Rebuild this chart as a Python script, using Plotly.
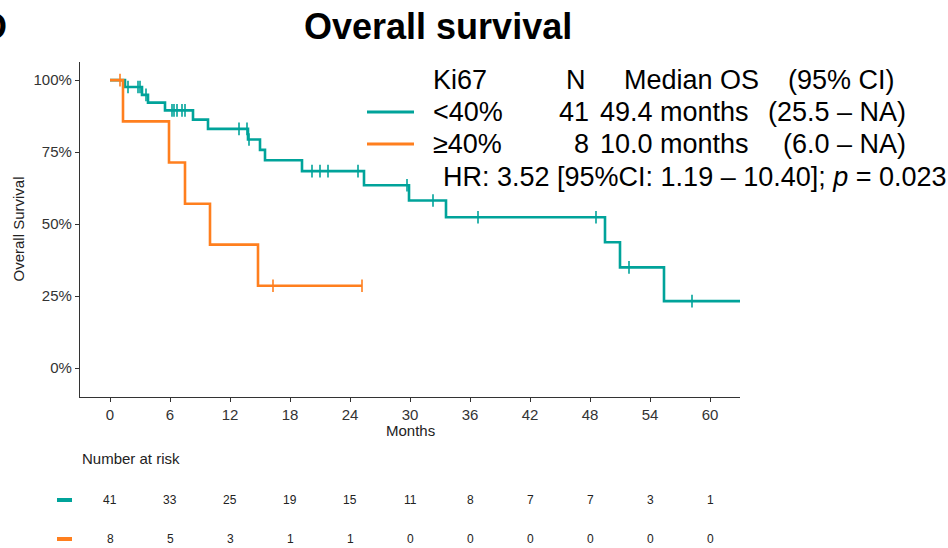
import plotly.graph_objects as go

# ---------------- data ----------------
groups = ["<40%", "≥40%"]
colors = ["#00A39A", "#FF7F1E"]

teal_event_months = [1.5, 3.2, 3.8, 5.5, 8.3, 9.8, 13.8, 15.0, 15.5, 19.2, 25.4,
                     29.9, 33.6, 49.5, 51.0, 55.4]
teal_event_surv = [97.6, 94.9, 92.2, 89.5, 86.3, 83.1, 79.4, 75.8, 72.2, 68.4, 63.5,
                   58.2, 52.4, 43.7, 35.0, 23.3]
teal_censor_months = [1.8, 2.8, 3.0, 3.6, 6.2, 6.4, 6.7, 7.2, 7.5, 12.9, 13.7, 13.9,
                      20.2, 21.0, 21.8, 24.8, 29.7, 32.3, 36.8, 48.6, 51.9, 58.2]
teal_end_month = 63.0

orange_event_months = [1.3, 5.9, 7.5, 10.0, 14.8]
orange_event_surv = [85.7, 71.4, 57.1, 42.9, 28.6]
orange_censor_months = [1.0, 16.3, 25.2]
orange_end_month = 25.2

risk_months = [0, 6, 12, 18, 24, 30, 36, 42, 48, 54, 60]
teal_at_risk = [41, 33, 25, 19, 15, 11, 8, 7, 7, 3, 1]
orange_at_risk = [8, 5, 3, 1, 1, 0, 0, 0, 0, 0, 0]

y_ticks = [0, 25, 50, 75, 100]
x_ticks = list(range(0, 61, 6))

legend_header = ["Ki67", "N", "Median OS", "(95% CI)"]
legend_n = ["41", "8"]
legend_median = ["49.4 months", "10.0 months"]
legend_ci = ["(25.5 – NA)", "(6.0 – NA)"]
hr_text = "HR: 3.52 [95%CI: 1.19 – 10.40]; <i>p</i> = 0.023"

FONT = "Liberation Sans, Arial, sans-serif"

# ---------------- helpers ----------------
def step_curve(ev_t, ev_s, end_t):
    xs, ys = [0.0], [100.0]
    for t, s in zip(ev_t, ev_s):
        xs.append(t)
        ys.append(s)
    xs.append(end_t)
    ys.append(ys[-1])
    return xs, ys

def surv_at(t, ev_t, ev_s):
    s = 100.0
    for et, es in zip(ev_t, ev_s):
        if et <= t:
            s = es
    return s

fig = go.Figure()

series = [
    (teal_event_months, teal_event_surv, teal_censor_months, teal_end_month, colors[0], groups[0]),
    (orange_event_months, orange_event_surv, orange_censor_months, orange_end_month, colors[1], groups[1]),
]
for ev_t, ev_s, cen_t, end_t, col, name in series:
    xs, ys = step_curve(ev_t, ev_s, end_t)
    fig.add_trace(go.Scatter(x=xs, y=ys, mode="lines", line=dict(color=col, width=2.6, shape="hv"),
                             name=name, showlegend=False, hoverinfo="skip"))
    fig.add_trace(go.Scatter(x=cen_t, y=[surv_at(t, ev_t, ev_s) for t in cen_t], mode="markers",
                             marker=dict(symbol="line-ns-open", size=9, color=col, line=dict(color=col, width=1.6)),
                             showlegend=False, hoverinfo="skip"))

# ---------------- layout geometry (pixels) ----------------
W, H = 948, 548
L, R, T, B = 80, 740, 62, 397

def px(xp):
    return (xp - L) / (R - L)

def py(yp):
    return (B - yp) / (B - T)

ann = []
# title and panel label
ann.append(dict(text="<b>Overall survival</b>", xref="paper", yref="paper", x=px(438), y=py(27),
                xanchor="center", yanchor="middle", showarrow=False, font=dict(size=36, color="black", family=FONT)))
ann.append(dict(text="<b>D</b>", xref="paper", yref="paper", x=px(9), y=py(27),
                xanchor="right", yanchor="middle", showarrow=False, font=dict(size=36, color="black", family=FONT)))

# axis titles
ann.append(dict(text="Months", xref="paper", yref="paper", x=0.5, y=py(430), xanchor="center", yanchor="middle",
                showarrow=False, font=dict(size=15, color="#222", family=FONT)))
ann.append(dict(text="Overall Survival", xref="paper", yref="paper", x=px(18), y=0.5, xanchor="center", yanchor="middle",
                textangle=-90, showarrow=False, font=dict(size=15, color="#222", family=FONT)))

# legend block
lf = dict(size=27, color="black", family=FONT)
row_y = [112, 144]
ann.append(dict(text=legend_header[0], xref="paper", yref="paper", x=px(431), y=py(80), xanchor="left", yanchor="middle", showarrow=False, font=lf))
ann.append(dict(text=legend_header[1], xref="paper", yref="paper", x=px(576), y=py(80), xanchor="center", yanchor="middle", showarrow=False, font=lf))
ann.append(dict(text=legend_header[2], xref="paper", yref="paper", x=px(622), y=py(80), xanchor="left", yanchor="middle", showarrow=False, font=lf))
ann.append(dict(text=legend_header[3], xref="paper", yref="paper", x=px(786), y=py(80), xanchor="left", yanchor="middle", showarrow=False, font=lf))
shapes = []
for i in range(2):
    ann.append(dict(text=groups[i], xref="paper", yref="paper", x=px(431), y=py(row_y[i]), xanchor="left", yanchor="middle", showarrow=False, font=lf))
    ann.append(dict(text=legend_n[i], xref="paper", yref="paper", x=px(591), y=py(row_y[i]), xanchor="right", yanchor="middle", showarrow=False, font=lf))
    ann.append(dict(text=legend_median[i], xref="paper", yref="paper", x=px(598), y=py(row_y[i]), xanchor="left", yanchor="middle", showarrow=False, font=lf))
    ann.append(dict(text=legend_ci[i], xref="paper", yref="paper", x=px(908), y=py(row_y[i]), xanchor="right", yanchor="middle", showarrow=False, font=lf))
    shapes.append(dict(type="line", xref="paper", yref="paper", x0=px(367), x1=px(414), y0=py(row_y[i]), y1=py(row_y[i]),
                       line=dict(color=colors[i], width=3)))
ann.append(dict(text=hr_text, xref="paper", yref="paper", x=px(441), y=py(177), xanchor="left", yanchor="middle", showarrow=False, font=lf))

# risk table
rf = dict(size=12, color="#222", family=FONT)
ann.append(dict(text="Number at risk", xref="paper", yref="paper", x=px(80), y=py(458), xanchor="left", yanchor="middle",
                showarrow=False, font=dict(size=15, color="#222", family=FONT)))
risk_rows = [teal_at_risk, orange_at_risk]
risk_y = [500, 539]
for r in range(2):
    for m, v in zip(risk_months, risk_rows[r]):
        ann.append(dict(text=str(v), xref="x", yref="paper", x=m, y=py(risk_y[r]), xanchor="center", yanchor="middle",
                        showarrow=False, font=rf))
    shapes.append(dict(type="line", xref="paper", yref="paper", x0=px(57), x1=px(72), y0=py(risk_y[r]), y1=py(risk_y[r]),
                       line=dict(color=colors[r], width=4)))

fig.update_layout(
    width=W, height=H,
    margin=dict(l=L, r=W - R, t=T, b=H - B, autoexpand=False),
    paper_bgcolor="white", plot_bgcolor="white",
    font=dict(family=FONT, color="#333"),
    annotations=ann, shapes=shapes,
    xaxis=dict(range=[-3, 63], tickvals=x_ticks, ticktext=[str(v) for v in x_ticks], automargin=False,
               showgrid=False, zeroline=False, showline=True, linecolor="#333", linewidth=1.3,
               ticks="outside", ticklen=4, tickwidth=1.2, tickcolor="#333",
               tickfont=dict(size=15, color="#333")),
    yaxis=dict(range=[-10, 106.3], tickvals=y_ticks, ticktext=[f"{v}%" for v in y_ticks], automargin=False,
               showgrid=False, zeroline=False, showline=True, linecolor="#333", linewidth=1.3,
               ticks="outside", ticklen=4, tickwidth=1.2, tickcolor="#333",
               tickfont=dict(size=15, color="#333")),
)

fig.write_html("out.html", config={"displayModeBar": False},
               post_script="document.body.style.margin='0';document.body.style.overflow='hidden';")
